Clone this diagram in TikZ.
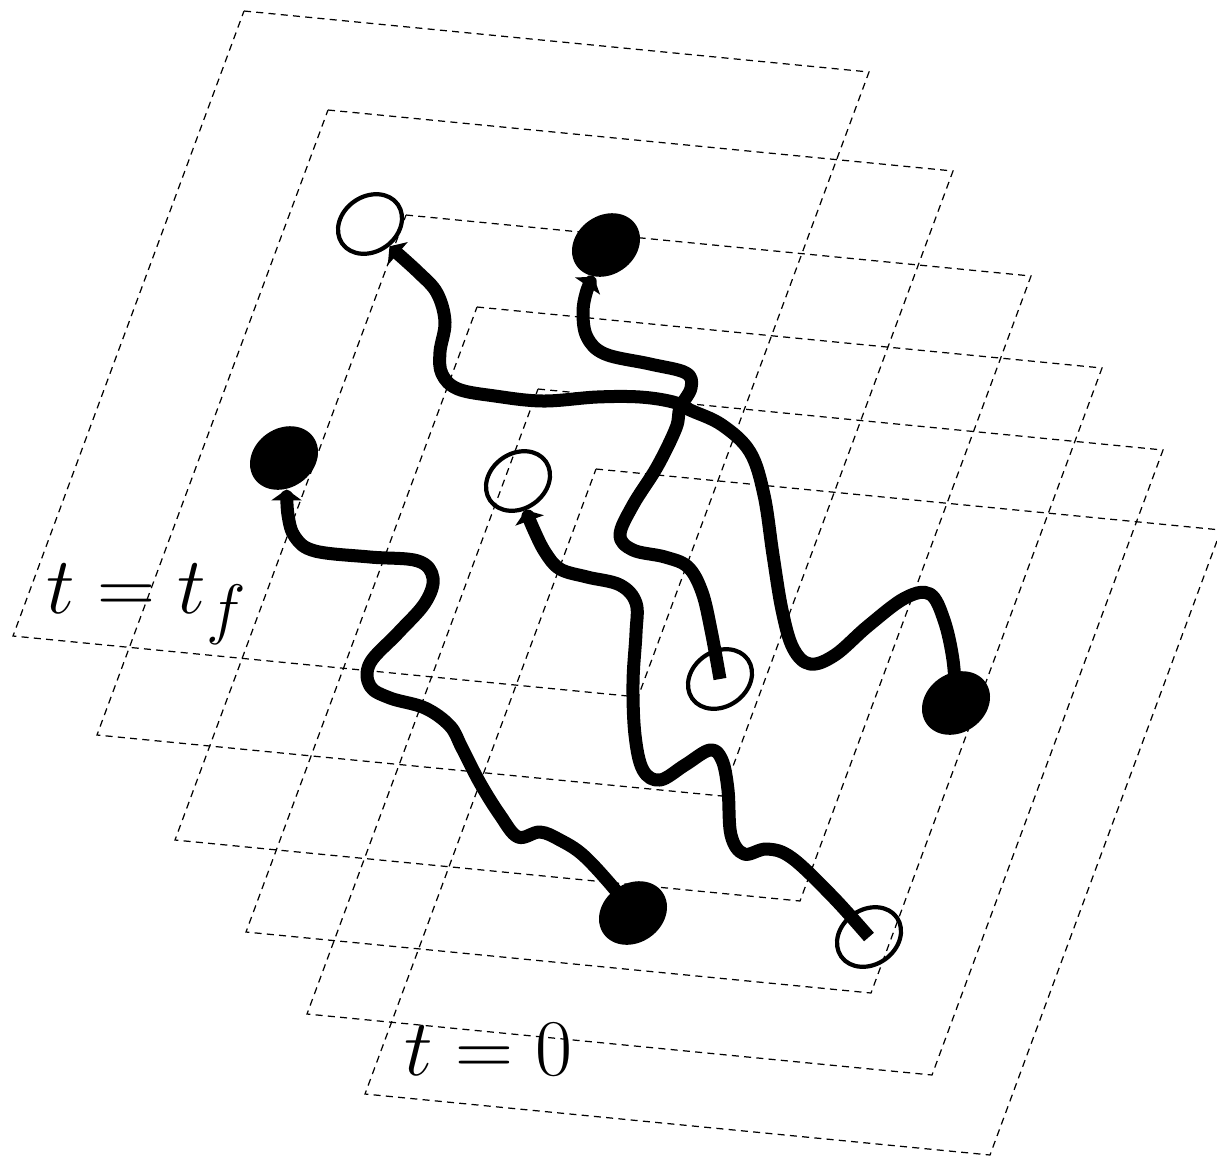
\documentclass[tikz,border=0pt]{standalone}
\usetikzlibrary{arrows.meta,shapes.geometric}
\tikzset{
  slab/.style={draw=black, line width=0.35pt, dash pattern=on 2pt off 1.5pt},
  spin/.style={ellipse, inner sep=0pt, minimum width=7.2mm, minimum height=5.9mm, rotate=35},
  fullspin/.style={spin, fill=black},
  openspin/.style={spin, draw=black, line width=1.2pt, minimum width=6.8mm, minimum height=5.5mm},
  worm/.style={line width=3.7pt, line join=round, -{Triangle[length=1.1mm,width=3mm]}},
  stamp/.style={font=\Huge, inner sep=0pt, anchor=base west},
}
\newcommand{\slicetext}[1]{\scalebox{0.92}{$#1$}}

\begin{document}
\begin{tikzpicture}[x=0.1mm, y=-0.1mm]
  \useasboundingbox (0,0) rectangle (1217,1159);
  % time slices, back (t = t_f) to front (t = 0)
  \foreach \x/\y in {244/11, 328/110, 406/215, 477/307, 538/389, 596/469}
    \draw[slab] (\x,\y) -- ++(625,61) -- ++(-231,625) -- ++(-625,-61) -- cycle;

  % end points at t = t_f
  \node[openspin] (fa) at (370,224) {};
  \node[fullspin] (fb) at (606,245) {};
  \node[fullspin] (fc) at (284,458) {};
  \node[openspin] (fd) at (518,481) {};
  % start points at t = 0
  \node[fullspin] (ia) at (956,703) {};
  \node[openspin] (ib) at (720,679) {};
  \node[fullspin] (ic) at (633,913) {};
  \node[openspin] (id) at (869,937) {};

  % world lines
  \draw[worm] plot[smooth, tension=0.6] coordinates {(ia.center) (953,660) (944,620)
    (930,594) (905,598) (868,626) (835,655) (810,664) (793,648) (782,610) (773,555)
    (764,495) (750,452) (722,425) (690,410) (673,402) (640,397) (597,397) (543,401)
    (495,396) (458,389) (442,374) (440,352) (445,322) (437,293) (418,272) (fa.-84)};
  \draw[worm] plot[smooth, tension=0.6] coordinates {(ib.center) (711,630) (702,592)
    (688,567) (665,557) (633,550) (620,535) (633,505) (657,467) (676,428) (680,408)
    (691,388) (686,373) (650,364) (605,354) (587,337) (583,312) (587,290) (fb.-146)};
  \draw[worm] plot[smooth, tension=0.6] coordinates {(ic.center) (612,886) (583,855)
    (560,840) (540,832) (518,837) (500,815) (480,783) (462,748) (450,726) (425,708)
    (390,698) (370,686) (370,663) (398,633) (425,603) (433,578) (418,561) (370,557)
    (315,551) (295,537) (288,515) (fc.-120)};
  \draw[worm] plot[smooth, tension=0.6] coordinates {(id.center) (833,897) (792,858)
    (767,849) (744,854) (731,835) (728,790) (722,760) (710,750) (685,765) (660,780)
    (643,770) (635,735) (633,683) (636,633) (636,603) (620,585) (587,577) (560,569)
    (545,552) (533,528) (fd.-110)};

  \node[stamp] (tf) at (46,613) {\slicetext{t=t_f}};
  \node[stamp] (t0) at (404,1075) {\slicetext{t=0}};
\end{tikzpicture}
\end{document}
